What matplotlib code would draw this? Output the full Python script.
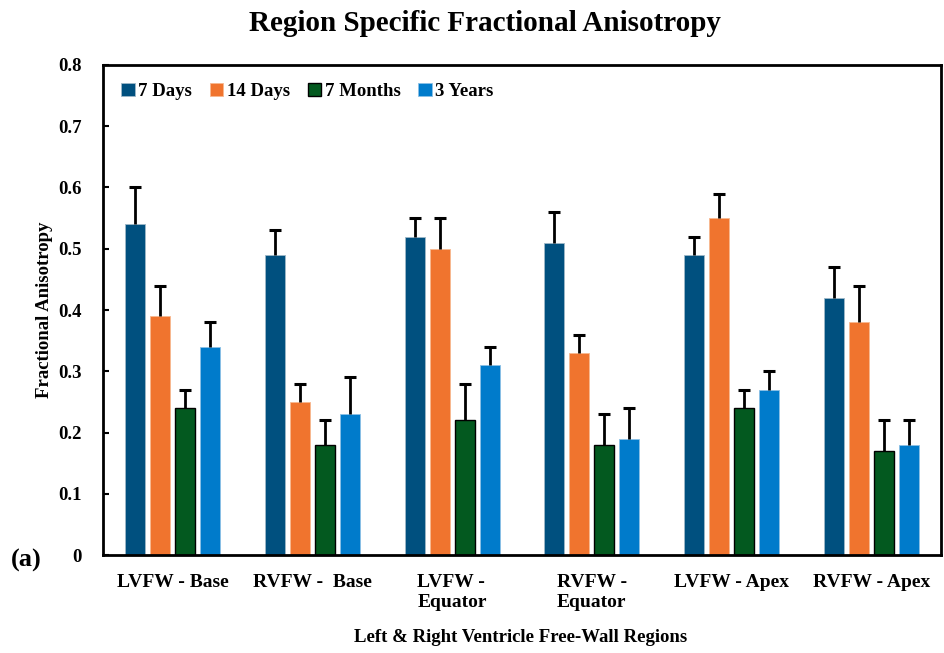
import numpy as np
import matplotlib
matplotlib.use("Agg")
import matplotlib.pyplot as plt

plt.rcParams['font.family'] = ['Liberation Serif', 'DejaVu Serif']
plt.rcParams['font.weight'] = 'bold'

# FA means and upper error per region / age group
regions = ["LVFW - Base", "RVFW -  Base", "LVFW -\nEquator", "RVFW -\nEquator",
           "LVFW - Apex", "RVFW - Apex"]
groups = ["7 Days", "14 Days", "7 Months", "3 Years"]

fa_7d = [0.54, 0.49, 0.52, 0.51, 0.49, 0.42]
fa_14d = [0.39, 0.25, 0.50, 0.33, 0.55, 0.38]
fa_7m = [0.24, 0.18, 0.22, 0.18, 0.24, 0.17]
fa_3y = [0.34, 0.23, 0.31, 0.19, 0.27, 0.18]

err_7d = [0.06, 0.04, 0.03, 0.05, 0.03, 0.05]
err_14d = [0.05, 0.03, 0.05, 0.03, 0.04, 0.06]
err_7m = [0.03, 0.04, 0.06, 0.05, 0.03, 0.05]
err_3y = [0.04, 0.06, 0.03, 0.05, 0.03, 0.04]

means = [fa_7d, fa_14d, fa_7m, fa_3y]
errs = [err_7d, err_14d, err_7m, err_3y]
colors = ["#00507F", "#F0742E", "#03591F", "#007BCB"]
edges = ["#9fb8c8", "#f8b890", "black", "#8cc0e6"]

fig = plt.figure(figsize=(9.44, 6.53), dpi=100)
ax = fig.add_axes([0.109, 0.150, 0.888, 0.7505])

x = np.arange(len(regions))
width = 0.143
step = 0.179
for i in range(4):
    pos = x + (i - 1.5) * step
    m = np.array(means[i])
    top = m + np.array(errs[i])
    ax.bar(pos, m, width, color=colors[i], edgecolor=edges[i],
           linewidth=1.0 if i == 2 else 0.6, label=groups[i], zorder=2)
    # one-sided (upper) error bars with a cap only at the top
    ax.vlines(pos, m, top, color='black', linewidth=2, zorder=3)
    ax.plot(pos, top, linestyle='none', marker='_', markersize=9,
            markeredgewidth=2.2, color='black', zorder=3)

ax.set_xlim(-0.5, len(regions) - 0.5)
ax.set_ylim(0, 0.8)
ax.set_yticks(np.arange(0, 0.81, 0.1))
ax.set_yticklabels(["0"] + ["%.1f" % v for v in np.arange(0.1, 0.81, 0.1)])
ax.set_xticks(x)
ax.set_xticklabels(regions, fontsize=14, fontweight='bold', multialignment='left')
ax.tick_params(axis='x', length=0, pad=14)
ax.tick_params(axis='y', direction='in', length=4, width=1.5, labelsize=13.5, pad=15)
for lbl in ax.get_yticklabels():
    lbl.set_fontweight('bold')

for side in ['left', 'bottom', 'top', 'right']:
    ax.spines[side].set_linewidth(2)

ax.set_ylabel("Fractional Anisotropy", fontsize=13.5, fontweight='bold', labelpad=4)
fig.text(0.551, 0.024, "Left & Right Ventricle Free-Wall Regions", fontsize=13.5,
         fontweight='bold', ha='center', va='center')
fig.suptitle("Region Specific Fractional Anisotropy", fontsize=21, fontweight='bold',
             x=0.514, y=0.985)

ax.legend(loc='upper left', ncol=4, frameon=False,
          handlelength=0.7, handleheight=0.7, handletextpad=0.2, columnspacing=0.95,
          bbox_to_anchor=(0.002, 0.997), prop={'weight': 'bold', 'size': 13.5})

fig.text(0.012, 0.133, "(a)", fontsize=19, fontweight='bold')

fig.savefig("out.png", dpi=100)
